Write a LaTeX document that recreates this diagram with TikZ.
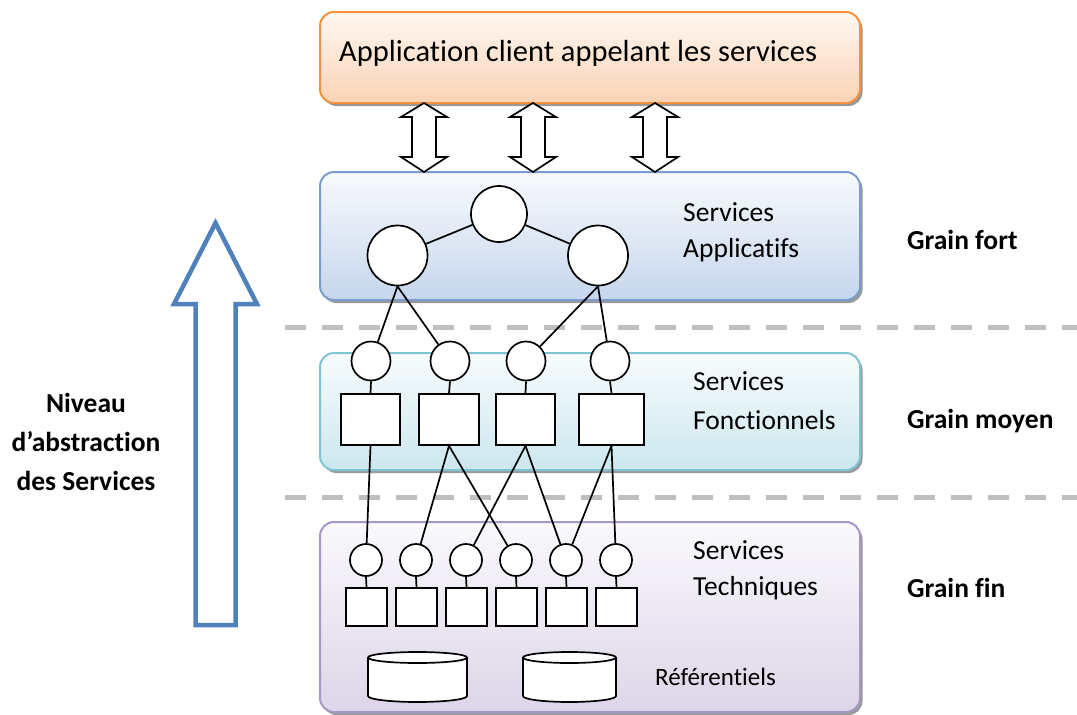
\documentclass[tikz,border=0pt]{standalone}
\usepackage{fontspec}
\setmainfont{Carlito}[Ligatures=NoCommon]
\usetikzlibrary{shadows}
\definecolor{appB}{HTML}{F5913E}
\definecolor{appT}{HTML}{FFF8F2}
\definecolor{appBot}{HTML}{FAD2B4}
\definecolor{bluB}{HTML}{7A9CCE}
\definecolor{bluT}{HTML}{F8FAFD}
\definecolor{bluBot}{HTML}{C6D6EC}
\definecolor{tealB}{HTML}{7FC4D5}
\definecolor{tealT}{HTML}{F8FCFD}
\definecolor{tealBot}{HTML}{CCE7EF}
\definecolor{purB}{HTML}{A797C7}
\definecolor{purT}{HTML}{FAF9FC}
\definecolor{purBot}{HTML}{DDD5E8}
\definecolor{sepgray}{HTML}{BFBFBF}
\definecolor{bigblue}{HTML}{4F81BD}
\tikzset{
  layer/.style={rectangle, rounded corners=14pt, line width=2pt, minimum width=540pt, inner sep=0pt,
    drop shadow={shadow xshift=2.5pt, shadow yshift=-3pt, fill=black!40, opacity=1}},
  bigc/.style={circle, draw, fill=white, line width=1.7pt, inner sep=0pt},
  sq/.style={rectangle, draw, fill=white, line width=1.7pt, inner sep=0pt},
  link/.style={line width=1.7pt},
  lbl/.style={anchor=west, inner sep=0pt, font=\fontsize{27.5}{33}\selectfont},
  grain/.style={anchor=west, inner sep=0pt, font=\bfseries\fontsize{27.5}{33}\selectfont},
  sep/.style={line width=5pt, draw=sepgray, dash pattern=on 21pt off 16pt},
  dblarrow/.style={draw=black, fill=white, line width=1.7pt, line join=miter},
  cyl/.style={draw=black, fill=white, line width=1.7pt},
}
\begin{document}
\begin{tikzpicture}[x=1pt,y=-1pt]
\useasboundingbox (0,0) rectangle (1077,715);

% layers
\node[layer, draw=appB, top color=appT, bottom color=appBot, minimum height=91pt] (app) at (590,57.5) {};
\node[layer, draw=bluB, top color=bluT, bottom color=bluBot, minimum height=128pt] (appl) at (590,236) {};
\node[layer, draw=tealB, top color=tealT, bottom color=tealBot, minimum height=117pt] (fonc) at (590,411.5) {};
\node[layer, draw=purB, top color=purT, bottom color=purBot, minimum height=190pt] (tech) at (590,617) {};

% separators
\coordinate (s1a) at (285,327); \coordinate (s1b) at (1077,327);
\coordinate (s2a) at (285,497); \coordinate (s2b) at (1077,497);
\draw[sep] (s1a) -- (s1b);
\draw[sep] (s2a) -- (s2b);

% texts
\node[anchor=west, inner sep=0pt, font=\fontsize{30.5}{36}\selectfont] (title) at (339,53) {Application client appelant les services};
\node[lbl] (t1a) at (683,212) {Services};
\node[lbl] (t1b) at (683,250) {Applicatifs};
\node[lbl] (t2a) at (693,381) {Services};
\node[lbl] (t2b) at (693,420) {Fonctionnels};
\node[lbl] (t3a) at (693,550) {Services};
\node[lbl] (t3b) at (693,588) {Techniques};
\node[anchor=west, inner sep=0pt, font=\fontsize{25}{30}\selectfont] (ref) at (655,677) {Référentiels};
\node[grain] (gf) at (907,240) {Grain fort};
\node[grain] (gm) at (907,421) {Grain moyen};
\node[grain] (gfi) at (907,588) {Grain fin};
\node[align=center, inner sep=0pt, font=\bfseries\fontsize{27.5}{39}\selectfont] (niv) at (86,442) {Niveau\\d’abstraction\\des Services};

% double arrows between client and services
\foreach \cx in {424,533,655}{
  \begin{scope}[shift={(\cx,0)}]
    \draw[dblarrow] (-12,117) -- (-23,117) -- (0,103) -- (23,117) -- (12,117) -- (12,157)
      -- (23,157) -- (0,172) -- (-23,157) -- (-12,157) -- cycle;
  \end{scope}
}

% big abstraction arrow
\draw[draw=bigblue, fill=white, line width=4.5pt, line join=miter]
  (215.5,223) -- (257,304) -- (235.5,304) -- (235.5,625) -- (195.5,625) -- (195.5,304) -- (174,304) -- cycle;

% services applicatifs
\node[bigc, minimum size=56pt] (a0) at (499,214) {};
\node[bigc, minimum size=60pt] (a1) at (397.5,255.5) {};
\node[bigc, minimum size=60pt] (a2) at (598,255.5) {};
\draw[link] (a0) -- (a1);
\draw[link] (a0) -- (a2);

% services fonctionnels
\node[bigc, minimum size=39pt] (f1) at (371,361) {};
\node[bigc, minimum size=39pt] (f2) at (450,361) {};
\node[bigc, minimum size=39pt] (f3) at (526,361) {};
\node[bigc, minimum size=39pt] (f4) at (610,361) {};
\node[sq, minimum width=59pt, minimum height=51pt] (g1) at (370.5,419.5) {};
\node[sq, minimum width=60pt, minimum height=51pt] (g2) at (449,419.5) {};
\node[sq, minimum width=59pt, minimum height=51pt] (g3) at (525.5,419.5) {};
\node[sq, minimum width=65pt, minimum height=51pt] (g4) at (611.5,419.5) {};
\draw[link] (a1.south) -- (f1);
\draw[link] (a1.south) -- (f2);
\draw[link] (a2.south) -- (f3);
\draw[link] (a2.south) -- (f4);
\foreach \i in {1,2,3,4}{ \draw[link] (f\i.south) -- (g\i.north); }

% services techniques
\foreach \i/\x in {1/366,2/416,3/466,4/516,5/566,6/616}{
  \node[bigc, minimum size=32pt] (t\i) at (\x,560) {};
  \node[sq, minimum width=41pt, minimum height=38pt] (u\i) at (\x+0.5,607) {};
  \draw[link] (t\i.south) -- (u\i.north);
}
\draw[link] (g1.south) -- (t1);
\draw[link] (g2.south) -- (t2);
\draw[link] (g2.south) -- (t4);
\draw[link] (g3.south) -- (t3);
\draw[link] (g3.south) -- (t5);
\draw[link] (g4.south) -- (t5);
\draw[link] (g4.south) -- (t6);

% referentiels (cylinders)
\foreach \l/\r in {368/467,523/616}{
  \pgfmathsetmacro{\cxx}{(\l+\r)/2}
  \pgfmathsetmacro{\rx}{(\r-\l)/2}
  \draw[cyl] (\cxx,696) ellipse [x radius=\rx, y radius=6];
  \fill[white] (\l,657.5) rectangle (\r,696);
  \draw[line width=1.7pt] (\l,657.5) -- (\l,696);
  \draw[line width=1.7pt] (\r,657.5) -- (\r,696);
  \draw[cyl] (\cxx,657.5) ellipse [x radius=\rx, y radius=5.5];
}
\end{tikzpicture}
\end{document}
